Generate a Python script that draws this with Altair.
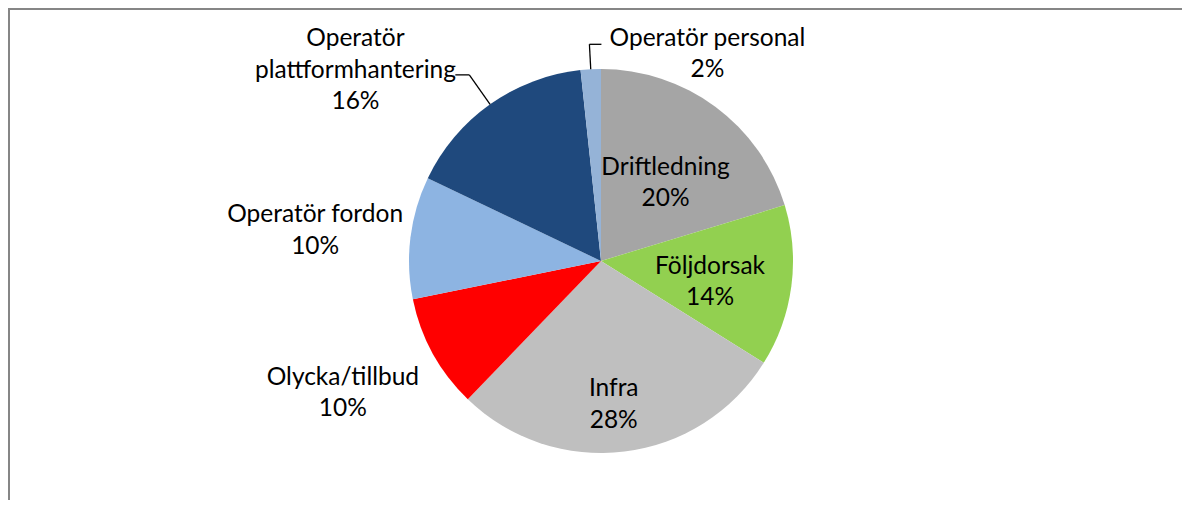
import altair as alt
import pandas as pd

categories = ["Driftledning", "Följdorsak", "Infra", "Olycka/tillbud",
              "Operatör fordon", "Operatör plattformhantering", "Operatör personal"]
label_names = ["Driftledning", "Följdorsak", "Infra", "Olycka/tillbud",
               "Operatör fordon", "Operatör\nplattformhantering", "Operatör personal"]
values = [20.3, 13.6, 28.3, 9.6, 10.3, 16.2, 1.7]
pct_labels = ["20%", "14%", "28%", "10%", "10%", "16%", "2%"]
colors = ["#A5A5A5", "#92D050", "#BFBFBF", "#FF0000", "#8DB4E2", "#1F497D", "#95B3D7"]

W, H = 1174, 492
CX, CY = 593, 253
R = 192
FONT = "Lato"
FS = 24.5
LH = 31.5

df = pd.DataFrame({
    "cat": categories,
    "name": label_names,
    "value": values,
    "pct": pct_labels,
    "order": list(range(len(categories))),
})

base = alt.Chart(df)

pie = base.mark_arc(outerRadius=R, stroke=None).encode(
    theta=alt.Theta("value:Q", stack=True),
    order=alt.Order("order:Q"),
    color=alt.Color("cat:N", scale=alt.Scale(domain=categories, range=colors), legend=None),
    x=alt.value(CX),
    y=alt.value(CY),
)

stacked = (
    base.transform_joinaggregate(total="sum(value)")
    .transform_window(cum="sum(value)", sort=[alt.SortField("order")], frame=[None, 0])
    .transform_calculate(
        ang="(datum.cum - datum.value / 2) / datum.total * 2 * PI",
        label="datum.name + '\\n' + datum.pct",
    )
)

# label placement: (radius, dx, dy, number of lines) per category
placement = {
    "Driftledning": (100, 5, 3, 2),
    "Följdorsak": (110, 0, 7, 2),
    "Infra": (145, -5, 0, 2),
    "Olycka/tillbud": (290, -4, -7, 2),
    "Operatör fordon": (288, 0, 5, 2),
    "Operatör plattformhantering": (226, -115, -6, 3),
    "Operatör personal": (217, 118, 10, 2),
}

label_layers = []
for cat, (r, dx, dy, n) in placement.items():
    label_layers.append(
        stacked.transform_filter(alt.datum.cat == cat)
        .mark_text(radius=r, dx=dx, dy=dy - (n - 1) * LH / 2, font=FONT, fontSize=FS,
                   lineBreak="\n", lineHeight=LH, align="center", baseline="middle",
                   color="#000000")
        .encode(
            theta=alt.Theta("ang:Q", scale=None, stack=None),
            text="label:N",
            x=alt.value(CX),
            y=alt.value(CY),
        )
    )

# leader lines for the two small outside labels
leader_cats = {"Operatör plattformhantering": (228, -14), "Operatör personal": (217, 12)}
leader_layers = []
for cat, (r2, hx) in leader_cats.items():
    seg = (
        stacked.transform_filter(alt.datum.cat == cat)
        .transform_calculate(
            ex=f"{CX} + {R} * sin(datum.ang)",
            ey=f"{CY} - {R} * cos(datum.ang)",
            kx=f"{CX} + {r2} * sin(datum.ang)",
            ky=f"{CY} - {r2} * cos(datum.ang)",
            hx=f"{CX} + {r2} * sin(datum.ang) + ({hx})",
        )
    )
    leader_layers.append(
        seg.mark_rule(color="#000000", strokeWidth=1.3).encode(
            x=alt.X("ex:Q", scale=None), y=alt.Y("ey:Q", scale=None),
            x2="kx:Q", y2="ky:Q",
        )
    )
    leader_layers.append(
        seg.mark_rule(color="#000000", strokeWidth=1.3).encode(
            x=alt.X("kx:Q", scale=None), y=alt.Y("ky:Q", scale=None),
            x2="hx:Q", y2="ky:Q",
        )
    )

frame_df = pd.DataFrame({"k": [0]})
frame_left = alt.Chart(frame_df).mark_rule(color="#868686", strokeWidth=2).encode(
    x=alt.value(1), y=alt.value(0), y2=alt.value(H)
)
frame_top = alt.Chart(frame_df).mark_rule(color="#868686", strokeWidth=2).encode(
    x=alt.value(0), x2=alt.value(W), y=alt.value(1)
)

chart = alt.layer(pie, *leader_layers, *label_layers, frame_left, frame_top).properties(
    width=W, height=H,
    padding=0,
    autosize=alt.AutoSizeParams(type="none"),
    background="#FFFFFF",
).configure_view(stroke=None)

chart.save("out.html", embed_options={"renderer": "svg", "actions": False})
